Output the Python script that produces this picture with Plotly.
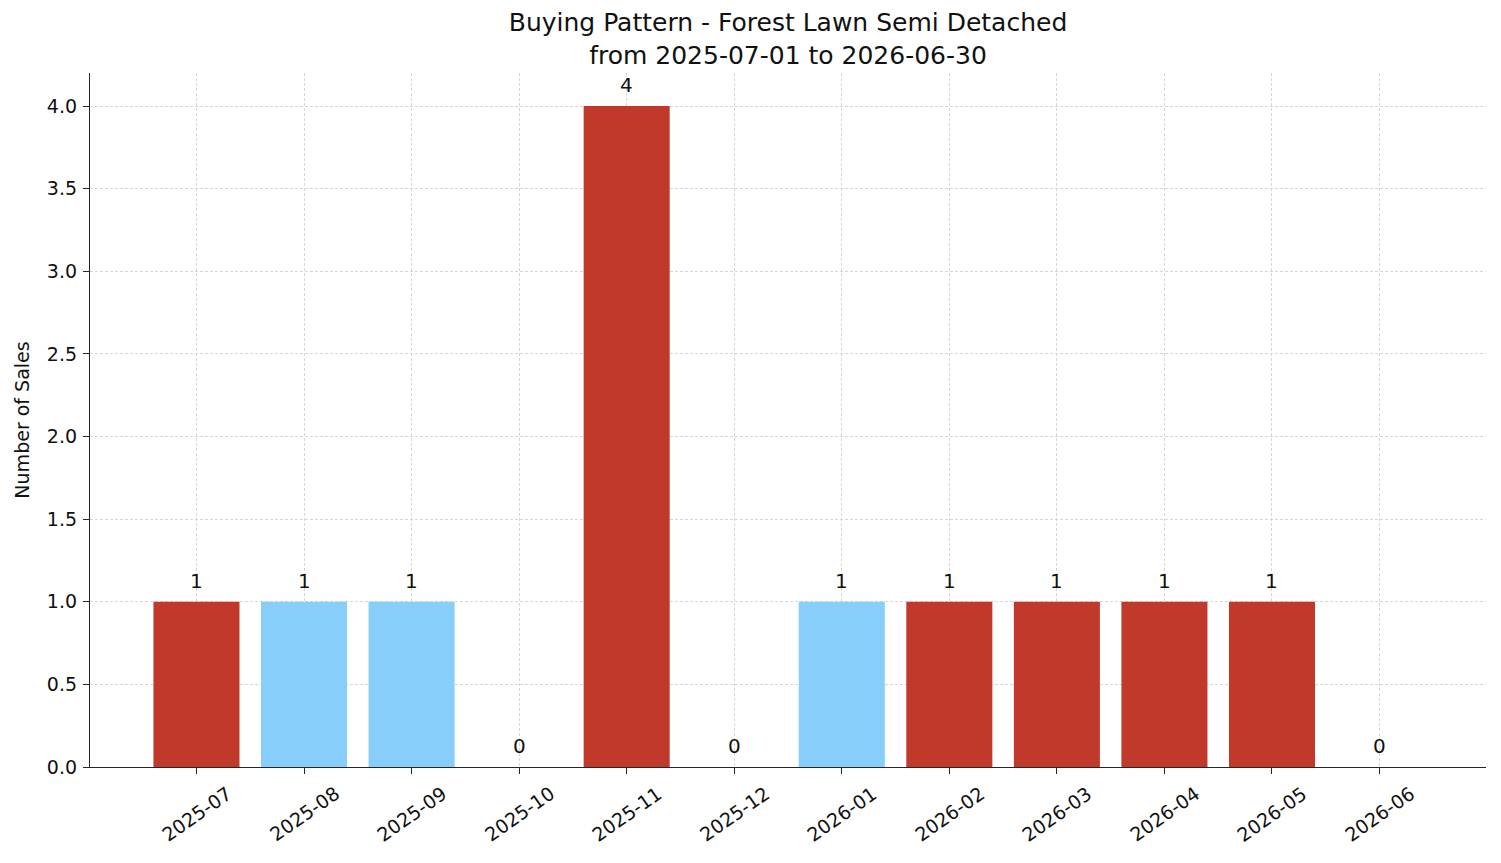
import plotly.graph_objects as go

months = ["2025-07", "2025-08", "2025-09", "2025-10", "2025-11", "2025-12",
          "2026-01", "2026-02", "2026-03", "2026-04", "2026-05", "2026-06"]
sales = [1, 1, 1, 0, 4, 0, 1, 1, 1, 1, 1, 0]
bar_colors = ["#C0392B", "#87CEFA", "#87CEFA", "#C0392B", "#C0392B", "#C0392B",
              "#87CEFA", "#C0392B", "#C0392B", "#C0392B", "#C0392B", "#C0392B"]

xs = list(range(len(months)))
FONT = "DejaVu Sans"

fig = go.Figure()
fig.add_trace(go.Bar(x=xs, y=sales, marker=dict(color=bar_colors, line=dict(width=0)),
                     width=0.8, showlegend=False, hoverinfo="skip"))

annotations = []
for x, v in zip(xs, sales):
    annotations.append(dict(x=x, y=v, xref="x", yref="y", text=str(v), showarrow=False,
                            yanchor="bottom", yshift=7, font=dict(family=FONT, size=20, color="#111")))
for x, m in zip(xs, months):
    annotations.append(dict(x=x, y=0, xref="x", yref="paper", text=m, showarrow=False,
                            textangle=-35, xanchor="center", yanchor="middle", yshift=-47,
                            font=dict(family=FONT, size=19, color="#111")))

fig.update_layout(
    width=1501, height=863,
    margin=dict(l=90, r=15, t=73, b=96),
    paper_bgcolor="white", plot_bgcolor="white",
    font=dict(family=FONT, size=19, color="#111"),
    title=dict(text="Buying Pattern - Forest Lawn Semi Detached<br>from 2025-07-01 to 2026-06-30",
               x=0.5, xanchor="center", xref="paper", yref="container", y=1 - 31 / 863, yanchor="middle",
               font=dict(family=FONT, size=25, color="#111")),
    annotations=annotations,
    bargap=0.2,
)
fig.update_xaxes(range=[-0.99, 11.99], tickmode="array", tickvals=xs, ticktext=[""] * len(xs),
                 showline=True, linecolor="#262626", linewidth=1.3,
                 ticks="outside", ticklen=6, tickcolor="#262626",
                 showgrid=True, gridcolor="#d6d6d6", griddash="3px,2px", gridwidth=0.8,
                 zeroline=False, layer="above traces")
fig.update_yaxes(range=[0, 4.2], dtick=0.5, tickformat=".1f",
                 showline=True, linecolor="#262626", linewidth=1.3,
                 ticks="outside", ticklen=6, tickcolor="#262626",
                 showgrid=True, gridcolor="#d6d6d6", griddash="3px,2px", gridwidth=0.8,
                 zeroline=False, layer="above traces", ticklabelstandoff=2,
                 title=dict(text="Number of Sales", font=dict(family=FONT, size=19), standoff=12),
                 tickfont=dict(family=FONT, size=19))

fig.write_html("out.html")
